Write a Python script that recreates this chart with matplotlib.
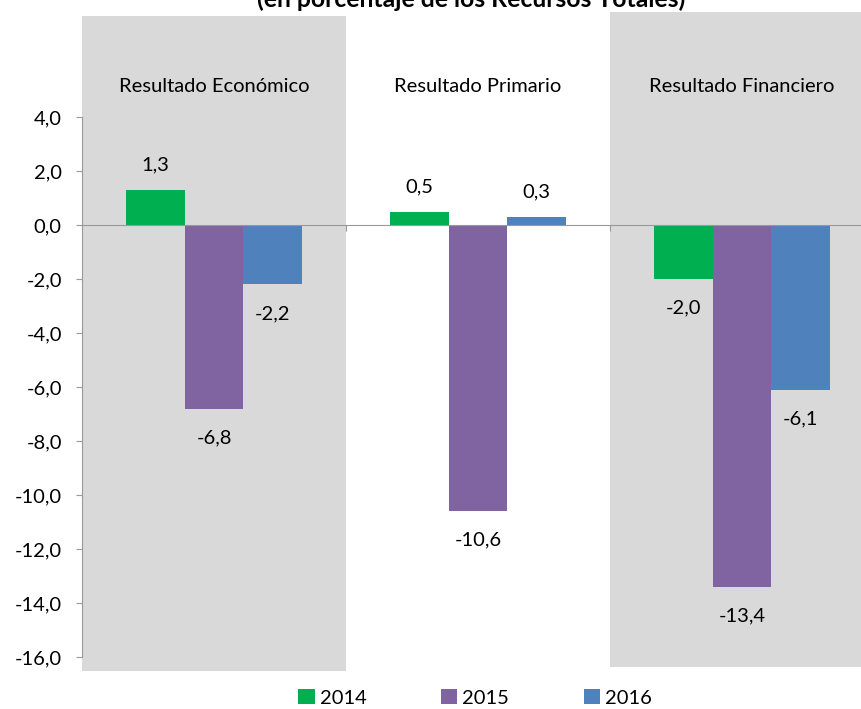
import matplotlib.pyplot as plt
from matplotlib.patches import Patch, Rectangle
from matplotlib.transforms import blended_transform_factory
import numpy as np

categories = ['Resultado Económico', 'Resultado Primario', 'Resultado Financiero']
years = ['2014', '2015', '2016']
values_2014 = [1.3, 0.5, -2.0]
values_2015 = [-6.8, -10.6, -13.4]
values_2016 = [-2.2, 0.3, -6.1]
yticks = [4, 2, 0, -2, -4, -6, -8, -10, -12, -14, -16]

colors = ['#00B050', '#8064A2', '#4F81BD']
plt.rcParams['font.family'] = ['Lato', 'DejaVu Sans']

fig = plt.figure(figsize=(8.61, 7.09), dpi=100)
ax = fig.add_axes([82 / 861, 52 / 709, 792 / 861, 540 / 709])
ax.set_xlim(-0.5, 2.5)
ax.set_ylim(-16, 4)
ax.patch.set_alpha(0)

# shaded panels behind first and third groups (extend past the axes)
trans = blended_transform_factory(ax.transData, fig.transFigure)
for x0, top, bottom in [(-0.5, 16, 671), (1.5, 12, 667)]:
    ax.add_patch(Rectangle((x0, 1 - bottom / 709), 1.0, (bottom - top) / 709,
                           transform=trans, facecolor='#D9D9D9', edgecolor='none',
                           zorder=0, clip_on=False))

x = np.arange(len(categories))
w = 0.223
series = [values_2014, values_2015, values_2016]
for i, (vals, c, yr) in enumerate(zip(series, colors, years)):
    bars = ax.bar(x + (i - 1) * w, vals, w, color=c, label=yr, zorder=2)
    for b, v in zip(bars, vals):
        cx = b.get_x() + b.get_width() / 2
        off = 18 if v >= 0 else -21
        ax.annotate(f'{v:.1f}'.replace('.', ','), (cx, v), xytext=(0, off),
                    textcoords='offset points', ha='center', va='center', fontsize=14.5)

for xi, cat in zip(x, categories):
    ax.text(xi, 1 - 87 / 709, cat, transform=trans, ha='center', va='center', fontsize=14.5)

for s in ['top', 'right']:
    ax.spines[s].set_visible(False)
ax.spines['bottom'].set_position(('data', 0))
ax.spines['bottom'].set_color('#999999')
ax.spines['left'].set_color('#999999')
ax.spines['bottom'].set_zorder(3)

ax.set_yticks(yticks)
ax.set_yticklabels([f'{v:.1f}'.replace('.', ',') for v in yticks], fontsize=14.5)
ax.set_xticks([0.5, 1.5])
ax.set_xticklabels([])
ax.tick_params(axis='y', direction='out', length=4.5, color='#999999', pad=10)
ax.tick_params(axis='x', direction='out', length=4.5, color='#999999')

fig.text(471 / 861, 1 - 7 / 709, '(en porcentaje de los Recursos Totales)',
         ha='center', va='baseline', fontsize=17.8, fontweight='bold')

handles = [Patch(facecolor=c, label=y) for c, y in zip(colors, years)]
fig.legend(handles=handles, loc='center', bbox_to_anchor=(475 / 861, 1 - 698 / 709), ncol=3,
           frameon=False, fontsize=14.5, handlelength=0.8, handleheight=0.7,
           handletextpad=0.25, columnspacing=3.7, borderpad=0, borderaxespad=0)

fig.savefig('out.png', dpi=100)
